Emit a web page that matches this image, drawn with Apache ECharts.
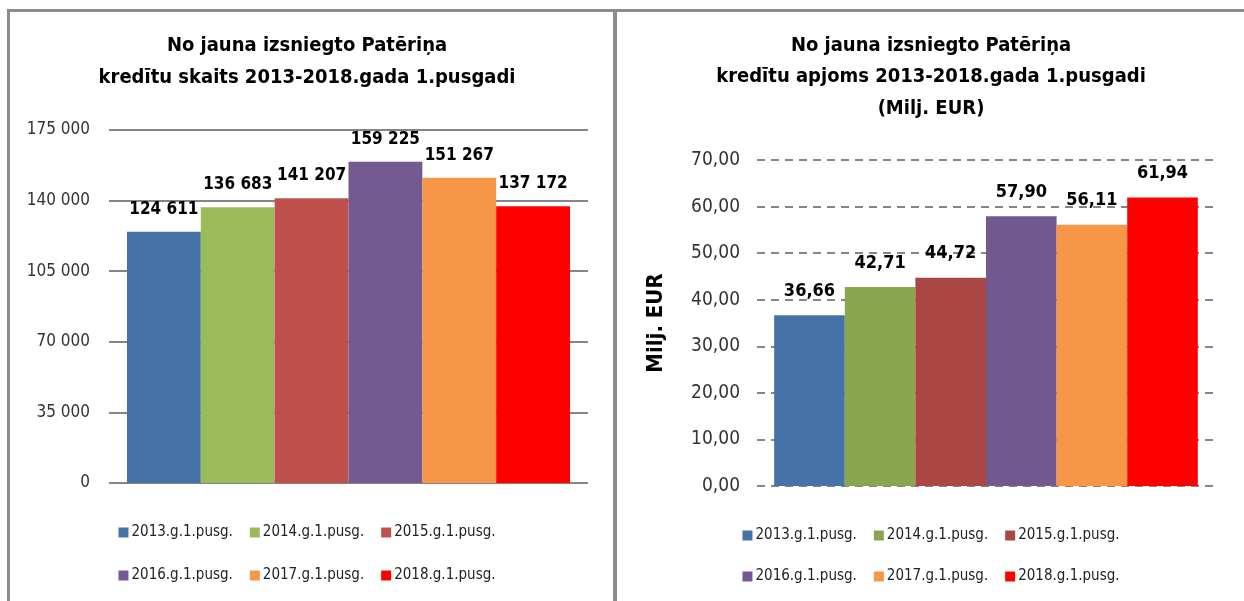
<html>
<head>
    <meta charset='utf-8'>
    <script src='https://cdn.jsdelivr.net/npm/echarts@6/dist/echarts.min.js'></script>
    <style>
        html, body {
            width: 100%;
            height: 100%;
            margin: 0;
            background: #fff;
            overflow: hidden;
        }
        #left, #right {
            position: absolute;
            top: 0;
            height: 601px;
        }
        #left { left: 0; width: 614px; }
        #right { left: 618px; width: 626px; }
        .line { position: absolute; background: #8c8c8c; }
    </style>
</head>
<body>

<div id='left'></div>
<div id='right'></div>
<div class='line' style='left:7px;top:9px;width:1237px;height:3px;'></div>
<div class='line' style='left:7px;top:9px;width:3px;height:592px;'></div>
<div class='line' style='left:613px;top:9px;width:4px;height:592px;'></div>

<script>
    var legendNames = ['2013.g.1.pusg.', '2014.g.1.pusg.', '2015.g.1.pusg.',
                       '2016.g.1.pusg.', '2017.g.1.pusg.', '2018.g.1.pusg.'];
    var countValues = [124611, 136683, 141207, 159225, 151267, 137172];
    var volumeValues = [36.66, 42.71, 44.72, 57.90, 56.11, 61.94];
    var leftColors = ['#4572A7', '#9BBB59', '#C0504D', '#735A90', '#F79646', '#FF0000'];
    var rightColors = ['#4572A7', '#89A54E', '#AA4643', '#71588F', '#F79646', '#FF0000'];

    var font = "'DejaVu Sans Condensed', sans-serif";

    function spaced(v) {
        return String(Math.round(v)).replace(/\B(?=(\d{3})+(?!\d))/g, ' ');
    }
    function comma(v) {
        return v.toFixed(2).replace('.', ',');
    }

    function makeLegends(top1, top2) {
        return [0, 1].map(function (i) {
            return {
                data: legendNames.slice(i * 3, i * 3 + 3),
                left: 'center',
                top: i == 0 ? top1 : top2,
                padding: 0,
                itemWidth: 10,
                itemHeight: 10,
                itemGap: 17,
                icon: 'rect',
                selectedMode: false,
                textStyle: { fontFamily: font, fontSize: 15, color: '#222', padding: [0, 0, 0, -2] }
            };
        });
    }

    function makeSeries(values, colors, fmt, labelSize, dist) {
        return values.map(function (v, i) {
            return {
                name: legendNames[i],
                type: 'bar',
                data: [v],
                barGap: '0%',
                barCategoryGap: '7.5%',
                itemStyle: { color: colors[i] },
                label: {
                    show: true,
                    position: 'top',
                    distance: dist,
                    formatter: function (p) { return fmt(p.value); },
                    fontFamily: font,
                    fontWeight: 'bold',
                    fontSize: labelSize,
                    color: '#000'
                },
                animation: false
            };
        });
    }

    var leftChart = echarts.init(document.getElementById('left'));
    leftChart.setOption({
        title: {
            text: 'No jauna izsniegto Patēriņa\nkredītu skaits 2013-2018.gada 1.pusgadi',
            left: 'center',
            top: 25,
            textStyle: { fontFamily: font, fontWeight: 'bold', fontSize: 20, lineHeight: 32, color: '#000' }
        },
        legend: makeLegends(525, 568),
        grid: { left: 109, right: 26, top: 130, bottom: 118 },
        xAxis: {
            type: 'category',
            data: [''],
            axisLine: { show: false },
            axisTick: { show: false },
            axisLabel: { show: false }
        },
        yAxis: {
            type: 'value',
            min: 0,
            max: 175000,
            interval: 35000,
            axisLine: { show: false },
            axisTick: { show: false },
            axisLabel: {
                margin: 19,
                fontFamily: font,
                fontSize: 17,
                color: '#333',
                formatter: spaced
            },
            splitLine: { lineStyle: { color: '#858585', width: 2 } }
        },
        series: makeSeries(countValues, leftColors, spaced, 17, 14)
    });

    var rightChart = echarts.init(document.getElementById('right'));
    rightChart.setOption({
        title: {
            text: 'No jauna izsniegto Patēriņa\nkredītu apjoms 2013-2018.gada 1.pusgadi\n(Milj. EUR)',
            left: 'center',
            top: 25,
            textStyle: { fontFamily: font, fontWeight: 'bold', fontSize: 20, lineHeight: 31.5, color: '#000' }
        },
        legend: makeLegends(528, 569),
        grid: { left: 139, right: 29, top: 160, bottom: 115 },
        xAxis: {
            type: 'category',
            data: [''],
            axisLine: { show: false },
            axisTick: { show: false },
            axisLabel: { show: false }
        },
        yAxis: {
            type: 'value',
            min: 0,
            max: 70,
            interval: 10,
            name: 'Milj. EUR',
            nameLocation: 'middle',
            nameRotate: 90,
            nameGap: 90,
            nameTextStyle: { fontFamily: font, fontWeight: 'bold', fontSize: 22, color: '#000' },
            axisLine: { show: false },
            axisTick: { show: false },
            axisLabel: {
                margin: 17,
                fontFamily: font,
                fontSize: 19,
                color: '#333',
                formatter: comma
            },
            splitLine: { lineStyle: { color: '#858585', width: 2, type: [8, 6] } }
        },
        series: makeSeries(volumeValues, rightColors, comma, 18, 15)
    });
</script>
</body>
</html>
